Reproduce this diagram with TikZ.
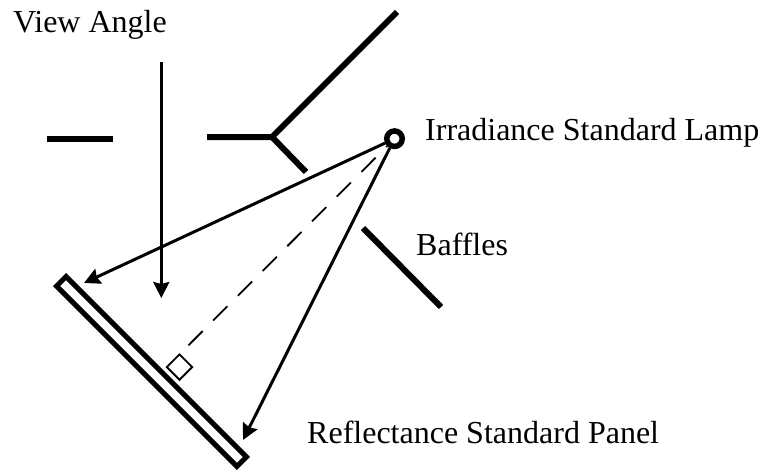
\documentclass[tikz,border=0pt]{standalone}
\usepackage{fontspec}
\setmainfont{Liberation Serif}
\usetikzlibrary{arrows.meta, positioning}

\begin{document}
\begin{tikzpicture}[
    x=1pt, y=-1pt,
    baffle/.style={line width=6pt, line join=round},
    ray/.style={-{Stealth[length=16pt, width=16pt, inset=2pt]}, line width=3pt},
    caption/.style={font=\fontsize{32}{34}\selectfont, anchor=base west, inner sep=0pt},
]
    \useasboundingbox (0,0) rectangle (763,471);

    % Lamp and panel
    \node[circle, draw, line width=5.5pt, minimum size=15.5pt, inner sep=0pt] (lamp) at (394.5,138.7) {};
    \node[draw, line width=1.8pt, minimum size=18pt, inner sep=0pt, outer sep=0pt, rotate=45] (corner) at (179.5,367) {};
    \node[draw, line width=5pt, minimum width=255pt, minimum height=13.4pt, inner sep=0pt, outer sep=0pt, rotate=-45] (panel) at (151.5,371.5) {};

    % Free ends
    \coordinate (leftpanelhit) at (84,283);
    \coordinate (rightpanelhit) at (243,440);
    \coordinate (viewtop) at (161.3,62);
    \coordinate (viewtip) at (161.3,298);
    \coordinate (bafflea) at (47,139);
    \coordinate (baffleb) at (113,139);
    \coordinate (bafflec) at (207,137);
    \coordinate (baffled) at (272,137);
    \coordinate (bafflee) at (397,12);
    \coordinate (bafflef) at (306,172);
    \coordinate (baffleg) at (363,228);
    \coordinate (baffleh) at (441,307);

    % Baffles
    \draw[baffle] (bafflea) -- (baffleb);
    \draw[baffle] (bafflec) -- (baffled) -- (bafflee);
    \draw[baffle] (baffled) -- (bafflef);
    \draw[baffle] (baffleg) -- (baffleh);

    % Rays
    \draw[ray] (lamp) -- (leftpanelhit);
    \draw[ray] (lamp) -- (rightpanelhit);
    \draw[ray] (viewtop) -- (viewtip);
    \draw[line width=1.8pt, dash pattern=on 20pt off 15pt] (corner.north east) ++(9,-9) -- (lamp);

    % Labels
    \node[caption] (viewlabel) at (13,32) {View Angle};
    \node[caption] (lamplabel) at (425,140) {Irradiance Standard Lamp};
    \node[caption] (bafflelabel) at (416,255) {Baffles};
    \node[caption] (panellabel) at (307,443) {Reflectance Standard Panel};
\end{tikzpicture}
\end{document}
